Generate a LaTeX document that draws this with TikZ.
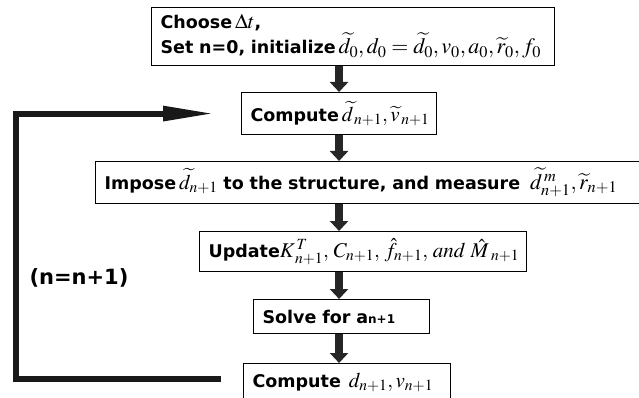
\documentclass[tikz,border=0pt]{standalone}
\usepackage{mathptmx}
\usepackage{fontspec}
\newfontfamily\flowfont{DejaVu Sans}
\usetikzlibrary{arrows.meta}
\newcommand{\mx}[2][21]{{\fontsize{#1}{23}\selectfont$#2$}}

\begin{document}
\begin{tikzpicture}
	[x=1pt,y=-1pt,every node/.style={inner sep=0pt},
	 stepbox/.style={draw,line width=1.1pt,anchor=north west,align=left,inner xsep=9pt,font=\flowfont\bfseries\fontsize{17.5}{22}\selectfont},
	 flow/.style={draw=black!85,line width=8pt,-{Triangle[length=10pt,width=18pt]}},
	 backline/.style={draw=black!90,line width=6pt,-{Triangle[length=52pt,width=14pt]}}]

	\useasboundingbox (0,0) rectangle (639,398);
	%\draw[help lines,step=50] (0,0) grid (639,398);
	\node[stepbox,text width=385pt,minimum height=58pt] (init) at (151,7) {\mbox{Choose\,\mx{\Delta t},}\\\mbox{Set n=0, initialize\,\mx[22]{\widetilde{d}_0, d_0=\widetilde{d}_0, v_0, a_0, \widetilde{r}_0, f_0}}};
	\node[stepbox,text width=177pt,minimum height=42pt] (comp) at (241,92) {\mbox{Compute\,\mx{\widetilde{d}_{\,n+1}, \widetilde{v}_{\,n+1}}}};
	\node[stepbox,text width=526pt,minimum height=42pt] (impose) at (95,161) {\mbox{Impose\,\mx{\widetilde{d}_{n+1}} to the structure, and measure\hspace{10pt}\mx[22]{\widetilde{d}^{\,m}_{n+1}, \widetilde{r}_{n+1}}}};
	\node[stepbox,text width=309pt,minimum height=40pt] (update) at (199,231) {\mbox{Update\mx{K^{\,T}_{\,n+1},\, C_{n+1},\, \hat{f}_{n+1},\, \mathit{and}\ \hat{M}_{\;n+1}}}};
	\node[stepbox,text width=158pt,minimum height=34pt] (solve) at (253,299) {\mbox{Solve for a{\fontsize{12}{12}\selectfont n+1}}};
	\node[stepbox,text width=189pt,minimum height=38pt] (final) at (243,363) {\mbox{Compute\hspace{8pt}\mx{d_{n+1}, v_{n+1}}}};
	\node[font=\flowfont\bfseries\fontsize{21}{24}\selectfont] (count) at (79,278) {(n=n+1)};

	\coordinate (lx) at (16,0);
	\draw[flow] (init.south -| comp.north) -- (comp.north);
	\draw[flow] (comp.south) -- (impose.north -| comp.south);
	\draw[flow] (impose.south -| comp.south) -- (update.north -| comp.south);
	\draw[flow] (update.south -| comp.south) -- (solve.north -| comp.south);
	\draw[flow] (solve.south -| comp.south) -- (final.north -| comp.south);
	\draw[backline] ([xshift=-22pt,yshift=4pt]final.west) coordinate (lb) -- (lx |- lb) |- ([xshift=-26pt]comp.west);

\end{tikzpicture}
\end{document}
